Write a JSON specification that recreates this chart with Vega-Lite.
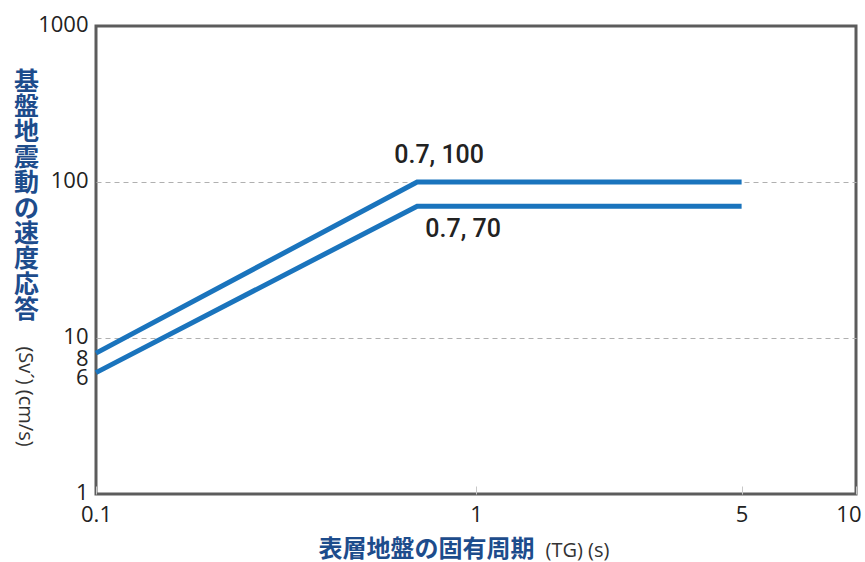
{
  "$schema": "https://vega.github.io/schema/vega-lite/v6.json",
  "width": 760,
  "height": 468,
  "autosize": "none",
  "padding": {"left": 96, "top": 26, "right": 9, "bottom": 68},
  "background": "white",
  "config": {
    "font": "Open Sans",
    "view": {"stroke": "#5c5c5c", "strokeWidth": 3}
  },
  "datasets": {
    "curves": [
      {"series": "upper", "T": 0.1, "S": 8},
      {"series": "upper", "T": 0.7, "S": 100},
      {"series": "upper", "T": 5, "S": 100},
      {"series": "lower", "T": 0.1, "S": 6},
      {"series": "lower", "T": 0.7, "S": 70},
      {"series": "lower", "T": 5, "S": 70}
    ],
    "corners": [
      {"T": 0.7, "S": 100, "text": "0.7, 100"},
      {"T": 0.7, "S": 70, "text": "0.7, 70"}
    ]
  },
  "layer": [
    {
      "data": {"name": "curves"},
      "mark": {"type": "line", "strokeWidth": 5, "color": "#1a74bd", "strokeCap": "butt", "strokeJoin": "miter"},
      "encoding": {
        "x": {
          "field": "T",
          "type": "quantitative",
          "scale": {"type": "log", "domain": [0.1, 10]},
          "axis": {
            "orient": "bottom",
            "values": [0.1, 1, 5, 10],
            "format": "~g",
            "domain": false,
            "grid": false,
            "ticks": true,
            "tickSize": -8,
            "tickColor": "#c8c8c8",
            "tickWidth": 1,
            "labelFont": "Open Sans",
            "labelFontSize": 22,
            "labelColor": "#222222",
            "labelPadding": 18,
            "labelAlign": {"condition": {"test": "datum.value == 10", "value": "right"}, "value": "center"},
            "labelOffset": {"condition": {"test": "datum.value == 10", "value": 5}, "value": 0},
            "labelFlush": false,
            "labelOverlap": false,
            "title": "表層地盤の固有周期",
            "titleFont": "Noto Sans CJK JP",
            "titleFontSize": 24,
            "titleFontWeight": "bold",
            "titleColor": "#1d4c8c",
            "titleAlign": "left",
            "titleBaseline": "middle",
            "titleX": 222,
            "titleY": 55
          }
        },
        "y": {
          "field": "S",
          "type": "quantitative",
          "scale": {"type": "log", "domain": [1, 1000]},
          "axis": {
            "orient": "left",
            "values": [1, 6, 8, 10, 100, 1000],
            "format": "~g",
            "domain": false,
            "ticks": false,
            "grid": true,
            "gridColor": "#b0b0b0",
            "gridDash": [5, 4],
            "gridWidth": 1,
            "gridOpacity": {"condition": {"test": "datum.value == 10 || datum.value == 100", "value": 1}, "value": 0},
            "labelFont": "Open Sans",
            "labelFontSize": 22,
            "labelOffset": {"condition": {"test": "datum.value == 6 || datum.value == 8", "value": 5}, "value": -2},
            "labelColor": "#222222",
            "labelPadding": 8,
            "labelFlush": false,
            "labelOverlap": false,
            "title": ["基", "盤", "地", "震", "動", "の", "速", "度", "応", "答"],
            "titleFont": "Noto Sans CJK JP",
            "titleFontSize": 25,
            "titleFontWeight": "bold",
            "titleColor": "#1d4c8c",
            "titleAngle": 0,
            "titleAlign": "center",
            "titleBaseline": "top",
            "titleLineHeight": 25.4,
            "titleX": -70,
            "titleY": 43
          }
        },
        "detail": {"field": "series"}
      }
    },
    {
      "data": {"name": "corners"},
      "transform": [{"filter": "datum.S == 100"}],
      "mark": {"type": "text", "font": "Roboto", "fontWeight": 500, "fontSize": 25, "color": "#222222", "align": "center", "baseline": "middle", "dx": 22, "dy": -27},
      "encoding": {
        "x": {
          "field": "T",
          "type": "quantitative",
          "axis": {
            "orient": "bottom",
            "labels": false,
            "ticks": false,
            "domain": false,
            "grid": false,
            "title": "(TG) (s)",
            "titleFont": "Open Sans",
            "titleFontSize": 20,
            "titleFontWeight": "normal",
            "titleColor": "#333333",
            "titleAlign": "left",
            "titleBaseline": "middle",
            "titleX": 449,
            "titleY": 56
          }
        },
        "y": {
          "field": "S",
          "type": "quantitative",
          "axis": {
            "orient": "left",
            "labels": false,
            "ticks": false,
            "domain": false,
            "grid": false,
            "title": "(Sv´) (cm/s)",
            "titleFont": "Open Sans",
            "titleFontSize": 20,
            "titleFontWeight": "normal",
            "titleColor": "#333333",
            "titleAngle": 90,
            "titleAlign": "center",
            "titleBaseline": "middle",
            "titleX": -72,
            "titleY": 370
          }
        },
        "text": {"field": "text"}
      }
    },
    {
      "data": {"name": "corners"},
      "transform": [{"filter": "datum.S == 70"}],
      "mark": {"type": "text", "font": "Roboto", "fontWeight": 500, "fontSize": 25, "color": "#222222", "align": "center", "baseline": "middle", "dx": 46, "dy": 23},
      "encoding": {
        "x": {"field": "T", "type": "quantitative", "axis": null},
        "y": {"field": "S", "type": "quantitative", "axis": null},
        "text": {"field": "text"}
      }
    }
  ],
  "resolve": {"axis": {"x": "independent", "y": "independent"}}
}
